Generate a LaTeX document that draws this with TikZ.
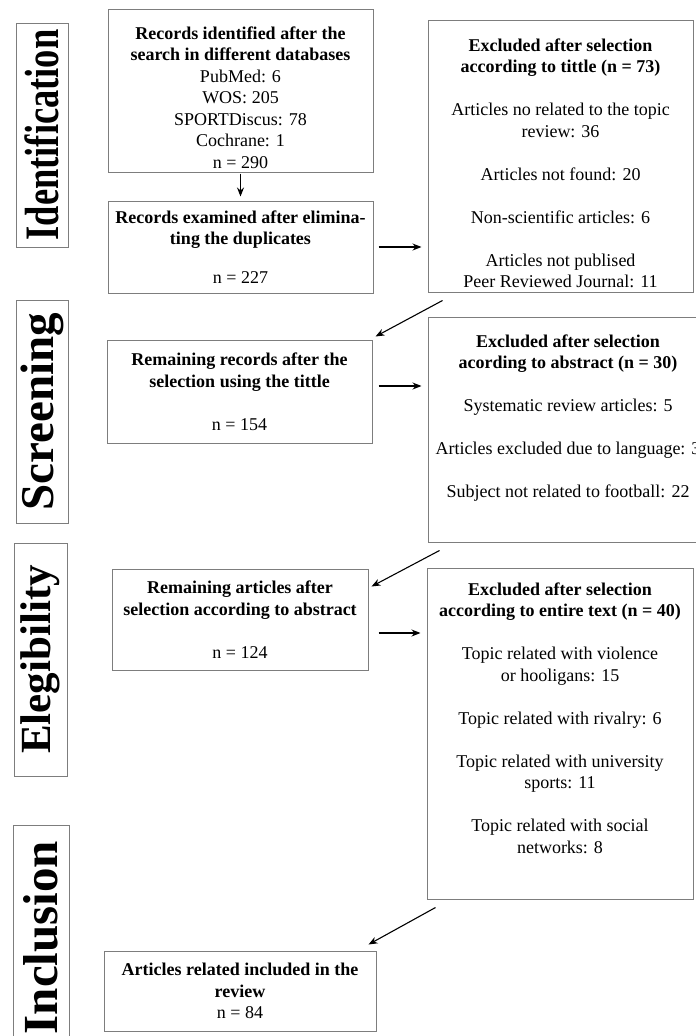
\documentclass[tikz,border=0pt]{standalone}
\usepackage{fontspec}
\setmainfont{Liberation Serif}
\usetikzlibrary{arrows.meta}
\definecolor{boxgray}{RGB}{125,125,125}
\newcommand{\bodysize}{\fontsize{18}{21.5}\selectfont}
\newcommand{\phasesize}[1]{\fontsize{#1}{#1}\selectfont\bfseries}
\tikzset{
    flow-box/.style = {draw=boxgray, line width=1pt, rectangle, align=center, inner sep=0pt, font=\bodysize},
    phase-box/.style = {draw=boxgray, line width=1pt, rectangle, rotate=90, inner sep=0pt, minimum height=52},
    flow-arrow/.style = {draw=black, line width=1.1pt, -{Stealth[length=9pt,width=7pt]}},
}

\begin{document}
\begin{tikzpicture}[x=1pt, y=-1pt]
\useasboundingbox (0,0) rectangle (696,1036);
% phases on the left
\node[phase-box, minimum width=224, font=\phasesize{48}] (identification) at (42,135) {\scalebox{0.76}[1]{Identification}};
\node[phase-box, minimum width=223, font=\phasesize{47}] (screening) at (42,411.5) {Screening};
\node[phase-box, minimum width=233, minimum height=53, font=\phasesize{43}] (elegibility) at (40.5,659.5) {Elegibility};
\node[phase-box, minimum width=225, minimum height=56, font=\phasesize{49}] (inclusion) at (41,937.5) {Inclusion};

% main column
\node[flow-box, minimum width=265, minimum height=163] (found) at (240.5,90.5) {\textbf{Records identified after the}\\
    \textbf{search in different databases}\\
    PubMed: 6\\ WOS: 205\\ SPORTDiscus: 78\\ Cochrane: 1\\ n = 290\\[-35.5pt]~};
\node[flow-box, minimum width=265, minimum height=92] (dedup) at (240.5,247) {\textbf{Records examined after elimina-}\\
    \textbf{ting the duplicates}\\[17pt]
    n = 227};
\node[flow-box, minimum width=265, minimum height=103] (by-title) at (239.5,391.5) {\textbf{Remaining records after the}\\
    \textbf{selection using the tittle}\\[21.5pt]
    n = 154};
\node[flow-box, minimum width=256, minimum height=101] (by-abstract) at (240,619.5) {\textbf{Remaining articles after}\\
    \textbf{selection according to abstract}\\[21.5pt]
    n = 124};
\node[flow-box, minimum width=272, minimum height=80] (included) at (240,991) {\textbf{Articles related included in the}\\
    \textbf{review}\\
    n = 84};

% excluded records on the right
\node[flow-box, minimum width=265, minimum height=272] (excl-title) at (560.5,156) {\textbf{Excluded after selection}\\
    \textbf{according to tittle (n = 73)}\\[21.5pt]
    Articles no related to the topic\\ review: 36\\[21.5pt]
    Articles not found: 20\\[21.5pt]
    Non-scientific articles: 6\\[21.5pt]
    Articles not publised\\ Peer Reviewed Journal: 11\\[-35.5pt]~};
\node[flow-box, minimum width=280, minimum height=225] (excl-abstract) at (568,429.5) {\textbf{Excluded after selection}\\
    \textbf{acording to abstract (n = 30)}\\[21.5pt]
    Systematic review articles: 5\\[21.5pt]
    Articles excluded due to language: 3\\[21.5pt]
    Subject not related to football: 22\\[5.5pt]
    ~};
\node[flow-box, minimum width=266, minimum height=331] (excl-text) at (560,733.5) {\textbf{Excluded after selection}\\
    \textbf{according to entire text (n = 40)}\\[21.5pt]
    Topic related with violence\\ or hooligans: 15\\[21.5pt]
    Topic related with rivalry: 6\\[21.5pt]
    Topic related with university\\ sports: 11\\[21.5pt]
    Topic related with social\\ networks: 8\\[9.5pt]
    ~};

% connectors
\draw[flow-arrow, shorten <=1pt, shorten >=4pt] (found) -- (dedup);
\draw[flow-arrow] ([xshift=5pt]dedup.east) -- ([xshift=-6pt]dedup.east -| excl-title.west);
\draw[flow-arrow] ([xshift=6pt,yshift=5.5pt]by-title.east) -- ([xshift=-6pt,yshift=5.5pt]by-title.east -| excl-abstract.west);
\draw[flow-arrow] ([xshift=10pt,yshift=-13.5pt]by-abstract.east) -- ([xshift=-6pt,yshift=-13.5pt]by-abstract.east -| excl-text.west);
\draw[flow-arrow] ([shift={(15pt,-8pt)}]excl-title.south west) -- ([shift={(3pt,3pt)}]by-title.north east);
\draw[flow-arrow] ([shift={(12pt,-8pt)}]excl-abstract.south west) -- ([shift={(3pt,-18pt)}]by-abstract.north east);
\draw[flow-arrow] ([shift={(9pt,-8pt)}]excl-text.south west) -- ([shift={(-8pt,6pt)}]included.north east);
\end{tikzpicture}
\end{document}
